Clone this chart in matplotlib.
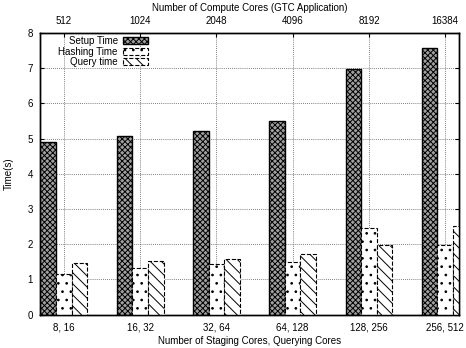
import numpy as np
import matplotlib.pyplot as plt

plt.rcParams['font.family'] = ['Liberation Sans', 'DejaVu Sans']
plt.rcParams['hatch.linewidth'] = 0.7

staging = ['8, 16', '16, 32', '32, 64', '64, 128', '128, 256', '256, 512']
compute = ['512', '1024', '2048', '4096', '8192', '16384']
setup_time = [4.90, 5.08, 5.22, 5.49, 6.98, 7.57]
hashing_time = [1.16, 1.33, 1.43, 1.50, 2.45, 1.97]
query_time = [1.47, 1.51, 1.57, 1.72, 1.98, 2.53]

fig = plt.figure(figsize=(4.66, 3.48), dpi=100)
ax = fig.add_axes([0.086, 0.096, 0.899, 0.809])

x = np.arange(len(staging))
w = 0.205

ax.bar(x - w, setup_time, w, facecolor='#a0a0a0', edgecolor='black', hatch='xxxxxx',
       linewidth=1.0, label='Setup Time', zorder=3)
ax.bar(x, hashing_time, w, facecolor='white', edgecolor='black', hatch='..',
       linewidth=0.8, linestyle='--', label='Hashing Time', zorder=3)
ax.bar(x + w, query_time, w, facecolor='white', edgecolor='black', hatch='\\\\\\',
       linewidth=0.8, linestyle='--', label='Query time', zorder=3)

ax.set_xlim(-0.31, 5.18)
ax.set_ylim(0, 8)
ax.set_yticks(range(0, 9))
ax.set_xticks(x)
ax.set_xticklabels(staging)
ax.tick_params(axis='both', labelsize=7, direction='in', length=0)
ax.tick_params(axis='x', pad=6)
ax.tick_params(axis='y', length=3, right=True, pad=5)
ax.set_xlabel('Number of Staging Cores, Querying Cores', fontsize=7, labelpad=2)
ax.set_ylabel('Time(s)', fontsize=7, labelpad=10)

ax.grid(True, linestyle=(0, (1, 1.5)), color='#555555', linewidth=0.6, zorder=0)

ax2 = ax.twiny()
ax2.set_xlim(ax.get_xlim())
ax2.set_xticks(x)
ax2.set_xticklabels(compute)
ax2.tick_params(axis='x', labelsize=7, direction='in', length=3, pad=5)
ax2.set_xlabel('Number of Compute Cores (GTC Application)', fontsize=7, labelpad=4)

for a in (ax, ax2):
    for s in a.spines.values():
        s.set_linewidth(1.0)

leg = ax.legend(loc='upper left', bbox_to_anchor=(0.03, 1.01), frameon=False,
                fontsize=7, markerfirst=False, handlelength=2.6, handleheight=0.7,
                labelspacing=0.05, handletextpad=0.5, borderaxespad=0.2)
for t in leg.get_texts():
    t.set_ha('right')
leg._legend_box.align = 'right'

fig.savefig('out.png', dpi=100)
